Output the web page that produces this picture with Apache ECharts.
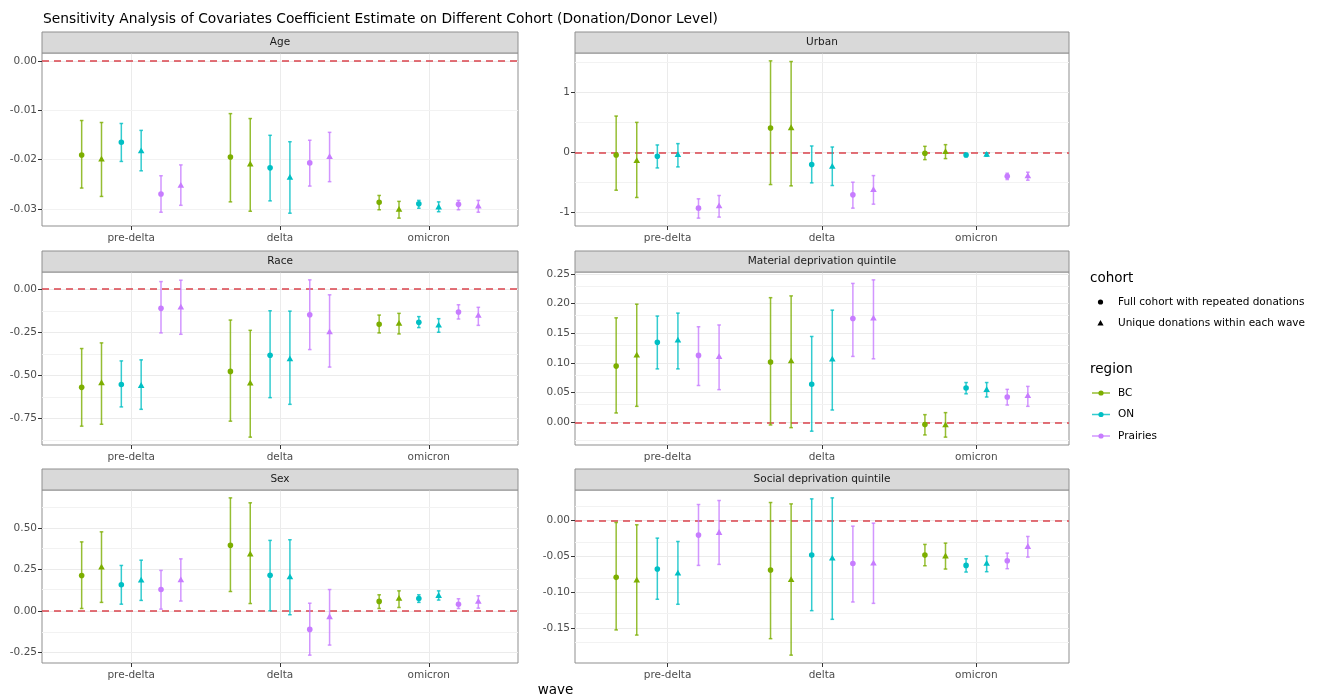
<!DOCTYPE html>
<html>
<head>
<meta charset="utf-8">
<script src="https://cdn.jsdelivr.net/npm/echarts@6/dist/echarts.min.js"></script>
<style>
  html, body { margin: 0; padding: 0; background: #ffffff; }
  #chart { width: 1331px; height: 700px; }
</style>
</head>
<body>
<div id="chart"></div>
<script>
// Categories
const waves = ['pre-delta', 'delta', 'omicron'];
const regions = ['BC', 'ON', 'Prairies'];
const cohorts = ['Full cohort with repeated donations', 'Unique donations within each wave'];
const regionColors = ['#7CAE00', '#00BFC4', '#C77CFF'];
const panelTitles = ['Age', 'Urban', 'Race', 'Material deprivation quintile', 'Sex', 'Social deprivation quintile'];

// Within each wave: BC full, BC unique, ON full, ON unique, Prairies full, Prairies unique
const ageEst  = [-0.0191, -0.0200, -0.0165, -0.0183, -0.0270, -0.0253,  -0.0195, -0.0210, -0.0217, -0.0237, -0.0207, -0.0195,  -0.0287, -0.0302, -0.0290, -0.0297, -0.0291, -0.0295];
const ageLow  = [-0.0258, -0.0275, -0.0204, -0.0223, -0.0307, -0.0293,  -0.0286, -0.0305, -0.0284, -0.0309, -0.0254, -0.0245,  -0.0302, -0.0319, -0.0299, -0.0306, -0.0302, -0.0307];
const ageHigh = [-0.0121, -0.0125, -0.0127, -0.0141, -0.0233, -0.0211,  -0.0107, -0.0117, -0.0151, -0.0164, -0.0161, -0.0145,  -0.0273, -0.0285, -0.0283, -0.0286, -0.0283, -0.0283];

const urbanEst  = [-0.044, -0.144, -0.066, -0.044, -0.928, -0.895,  0.403, 0.403, -0.204, -0.238, -0.707, -0.624,  -0.017, 0.006, -0.044, -0.039, -0.398, -0.398];
const urbanLow  = [-0.630, -0.751, -0.260, -0.243, -1.094, -1.077,  -0.536, -0.558, -0.508, -0.552, -0.928, -0.862,  -0.122, -0.105, -0.072, -0.066, -0.453, -0.464];
const urbanHigh = [0.602, 0.497, 0.122, 0.144, -0.773, -0.718,  1.519, 1.508, 0.105, 0.088, -0.497, -0.387,  0.099, 0.127, -0.017, -0.011, -0.348, -0.331];

const raceEst  = [-0.572, -0.547, -0.555, -0.563, -0.112, -0.106,  -0.479, -0.549, -0.385, -0.408, -0.149, -0.251,  -0.205, -0.201, -0.193, -0.211, -0.133, -0.155];
const raceLow  = [-0.798, -0.787, -0.686, -0.700, -0.255, -0.263,  -0.769, -0.862, -0.632, -0.671, -0.352, -0.454,  -0.255, -0.261, -0.224, -0.251, -0.174, -0.211];
const raceHigh = [-0.346, -0.313, -0.418, -0.412, 0.044, 0.052,  -0.180, -0.240, -0.126, -0.128, 0.054, -0.033,  -0.151, -0.141, -0.160, -0.172, -0.091, -0.106];

const materialEst  = [0.0947, 0.1127, 0.135, 0.138, 0.1127, 0.110,  0.1015, 0.103, 0.064, 0.106, 0.1749, 0.175,  -0.0039, -0.005, 0.0577, 0.0544, 0.0426, 0.0443];
const materialLow  = [0.0157, 0.0269, 0.090, 0.090, 0.062, 0.055,  -0.0045, -0.009, -0.015, 0.0207, 0.111, 0.107,  -0.0213, -0.025, 0.048, 0.0426, 0.0291, 0.0269];
const materialHigh = [0.176, 0.199, 0.179, 0.184, 0.161, 0.164,  0.210, 0.213, 0.1446, 0.189, 0.234, 0.240,  0.0129, 0.0163, 0.067, 0.067, 0.0555, 0.0605];

const sexEst  = [0.214, 0.263, 0.158, 0.184, 0.129, 0.186,  0.398, 0.342, 0.216, 0.204, -0.113, -0.038,  0.057, 0.073, 0.075, 0.091, 0.040, 0.055];
const sexLow  = [0.014, 0.051, 0.040, 0.063, 0.010, 0.059,  0.117, 0.044, 0.000, -0.024, -0.269, -0.208,  0.014, 0.020, 0.051, 0.065, 0.014, 0.016];
const sexHigh = [0.418, 0.479, 0.275, 0.307, 0.245, 0.315,  0.685, 0.655, 0.427, 0.431, 0.046, 0.129,  0.097, 0.121, 0.097, 0.121, 0.073, 0.091];

const socialEst  = [-0.0794, -0.0836, -0.0678, -0.0738, -0.0204, -0.0172,  -0.0692, -0.0831, -0.0483, -0.0530, -0.0600, -0.0600,  -0.0483, -0.0500, -0.0627, -0.0604, -0.0562, -0.0367];
const socialLow  = [-0.1528, -0.1600, -0.1100, -0.1170, -0.0627, -0.0613,  -0.1650, -0.1880, -0.1259, -0.1380, -0.1138, -0.1157,  -0.0632, -0.0678, -0.0720, -0.0715, -0.0673, -0.0511];
const socialHigh = [-0.0028, -0.0060, -0.0246, -0.0293, 0.0223, 0.0279,  0.0251, 0.0232, 0.0302, 0.0316, -0.0079, -0.0037,  -0.0334, -0.0316, -0.0534, -0.0497, -0.0455, -0.0223];

// Y-axis tick values per facet
const ageTicks = [-0.03, -0.02, -0.01, 0];
const urbanTicks = [-1, 0, 1];
const raceTicks = [-0.75, -0.5, -0.25, 0];
const materialTicks = [0, 0.05, 0.1, 0.15, 0.2, 0.25];
const sexTicks = [-0.25, 0, 0.25, 0.5];
const socialTicks = [-0.15, -0.1, -0.05, 0];
const tickDigits = [2, 0, 2, 2, 2, 2];

const panels = [
  { est: ageEst, low: ageLow, high: ageHigh, ticks: ageTicks },
  { est: urbanEst, low: urbanLow, high: urbanHigh, ticks: urbanTicks },
  { est: raceEst, low: raceLow, high: raceHigh, ticks: raceTicks },
  { est: materialEst, low: materialLow, high: materialHigh, ticks: materialTicks },
  { est: sexEst, low: sexLow, high: sexHigh, ticks: sexTicks },
  { est: socialEst, low: socialLow, high: socialHigh, ticks: socialTicks }
];

// Facet layout (plot area of each panel, strip sits above it)
const colLeft = [42, 575];
const colWidth = [476, 494];
const rowTop = [53, 272, 490];
const rowHeight = 173;
const stripHeight = 21;
const FONT = 'DejaVu Sans';
const borderColor = '#8F8F8F';

const dodgeWidth = 0.8;
const groupsPerWave = regions.length * cohorts.length;

function renderErrorPoint(params, api) {
  const est = api.coord([api.value(0), api.value(1)]);
  const lo = api.coord([api.value(0), api.value(2)]);
  const hi = api.coord([api.value(0), api.value(3)]);
  const color = regionColors[api.value(4)];
  const cap = 1.8;
  const lineStyle = { stroke: color, lineWidth: 1.5, opacity: 0.8 };
  const children = [
    { type: 'line', shape: { x1: lo[0], y1: lo[1], x2: hi[0], y2: hi[1] }, style: lineStyle },
    { type: 'line', shape: { x1: hi[0] - cap, y1: hi[1], x2: hi[0] + cap, y2: hi[1] }, style: lineStyle },
    { type: 'line', shape: { x1: lo[0] - cap, y1: lo[1], x2: lo[0] + cap, y2: lo[1] }, style: lineStyle }
  ];
  if (api.value(5) === 0) {
    children.push({ type: 'circle', shape: { cx: est[0], cy: est[1], r: 2.8 }, style: { fill: color } });
  } else {
    children.push({ type: 'polygon', shape: { points: [[est[0], est[1] - 3.7], [est[0] - 3.3, est[1] + 2.1], [est[0] + 3.3, est[1] + 2.1]] }, style: { fill: color } });
  }
  return { type: 'group', children: children };
}

const grids = [], xAxes = [], yAxes = [], series = [], graphics = [];

panels.forEach((p, i) => {
  const col = i % 2, row = Math.floor(i / 2);
  const left = colLeft[col], top = rowTop[row], width = colWidth[col];

  grids.push({ left: left, top: top, width: width, height: rowHeight, show: true,
    borderColor: borderColor, borderWidth: 1, backgroundColor: 'transparent', containLabel: false });

  xAxes.push({
    type: 'value', gridIndex: i, min: 0.4, max: 3.6, position: 'bottom',
    axisLine: { show: false, onZero: false },
    axisTick: { show: true, length: 4, lineStyle: { color: '#333333' }, customValues: [1, 2, 3] },
    axisLabel: { customValues: [1, 2, 3], formatter: v => waves[Math.round(v) - 1], color: '#4D4D4D',
      fontSize: 10.5, fontFamily: FONT, margin: 7 },
    splitLine: { show: true, lineStyle: { color: '#EBEBEB', width: 1 } }
  });

  // ggplot-style 5% expansion of the data range (reference line at 0 included)
  let lo = Math.min(0, ...p.low), hi = Math.max(0, ...p.high);
  const pad = (hi - lo) * 0.05;
  const yMin = lo - pad, yMax = hi + pad;

  yAxes.push({
    type: 'value', gridIndex: i, min: yMin, max: yMax, position: 'left',
    axisLine: { show: false, onZero: false },
    axisTick: { show: true, length: 4, lineStyle: { color: '#333333' }, customValues: p.ticks },
    axisLabel: { customValues: p.ticks, formatter: v => (Math.abs(v) < 1e-12 ? 0 : v).toFixed(tickDigits[i]),
      color: '#4D4D4D', fontSize: 10.5, fontFamily: FONT, margin: 5 },
    splitLine: { show: true, lineStyle: { color: '#EBEBEB', width: 1 } }
  });

  // minor grid lines half way between major ticks
  const step = p.ticks[1] - p.ticks[0];
  const minor = [];
  for (let k = -1; k < p.ticks.length; k++) {
    const v = p.ticks[0] + (k + 0.5) * step;
    if (v > yMin && v < yMax) minor.push(v);
  }
  series.push({
    type: 'line', xAxisIndex: i, yAxisIndex: i, data: [], silent: true, z: 1,
    markLine: { silent: true, symbol: 'none', label: { show: false }, animation: false,
      lineStyle: { color: '#F2F2F2', width: 1, type: 'solid' },
      data: minor.map(v => ({ yAxis: v })) }
  });
  // reference line at zero
  series.push({
    type: 'line', xAxisIndex: i, yAxisIndex: i, data: [], silent: true, z: 2,
    markLine: { silent: true, symbol: 'none', label: { show: false }, animation: false,
      lineStyle: { color: '#DA434C', width: 1.5, type: [7, 5] },
      data: [{ yAxis: 0 }] }
  });

  const data = [];
  waves.forEach((w, wi) => {
    for (let g = 0; g < groupsPerWave; g++) {
      const idx = wi * groupsPerWave + g;
      const r = Math.floor(g / cohorts.length), c = g % cohorts.length;
      const x = wi + 1 + (g - (groupsPerWave - 1) / 2) * dodgeWidth / groupsPerWave;
      data.push([x, p.est[idx], p.low[idx], p.high[idx], r, c]);
    }
  });
  series.push({
    type: 'custom', xAxisIndex: i, yAxisIndex: i, z: 5, silent: true, animation: false,
    renderItem: renderErrorPoint,
    dimensions: ['x', 'est', 'low', 'high', 'region', 'cohort'],
    encode: { x: 0, y: [1, 2, 3] },
    data: data
  });

  // facet strip
  graphics.push({ type: 'rect', silent: true, z: 10,
    shape: { x: left, y: top - stripHeight, width: width, height: stripHeight },
    style: { fill: '#D9D9D9', stroke: borderColor, lineWidth: 1 } });
  graphics.push({ type: 'text', silent: true, z: 11, x: left + width / 2, y: top - stripHeight / 2,
    style: { text: panelTitles[i], fill: '#1A1A1A', font: '10.5px "' + FONT + '"', align: 'center', verticalAlign: 'middle' } });
});

// Axis title
graphics.push({ type: 'text', silent: true, x: (colLeft[0] + colLeft[1] + colWidth[1]) / 2, y: 690,
  style: { text: 'wave', fill: '#000000', font: '13.5px "' + FONT + '"', align: 'center', verticalAlign: 'middle' } });

// Legends
const legX = 1090;
graphics.push({ type: 'text', silent: true, x: legX, y: 278,
  style: { text: 'cohort', fill: '#000000', font: '13.5px "' + FONT + '"', verticalAlign: 'middle' } });
cohorts.forEach((name, k) => {
  const cy = 302 + k * 21.5;
  if (k === 0) {
    graphics.push({ type: 'circle', silent: true, shape: { cx: 1100.5, cy: cy, r: 2.6 }, style: { fill: '#000000' } });
  } else {
    graphics.push({ type: 'polygon', silent: true, shape: { points: [[1100.5, cy - 3.4], [1097.4, cy + 2], [1103.6, cy + 2]] }, style: { fill: '#000000' } });
  }
  graphics.push({ type: 'text', silent: true, x: 1118, y: cy,
    style: { text: name, fill: '#000000', font: '10.5px "' + FONT + '"', verticalAlign: 'middle' } });
});
graphics.push({ type: 'text', silent: true, x: legX, y: 369,
  style: { text: 'region', fill: '#000000', font: '13.5px "' + FONT + '"', verticalAlign: 'middle' } });
regions.forEach((name, k) => {
  const cy = 393 + k * 21.5;
  graphics.push({ type: 'line', silent: true, shape: { x1: 1092, y1: cy, x2: 1110, y2: cy },
    style: { stroke: regionColors[k], lineWidth: 1.5, opacity: 0.8 } });
  graphics.push({ type: 'circle', silent: true, shape: { cx: 1101, cy: cy, r: 2.6 }, style: { fill: regionColors[k] } });
  graphics.push({ type: 'text', silent: true, x: 1118, y: cy,
    style: { text: name, fill: '#000000', font: '10.5px "' + FONT + '"', verticalAlign: 'middle' } });
});

const chart = echarts.init(document.getElementById('chart'), null, { renderer: 'canvas' });
chart.setOption({
  animation: false,
  backgroundColor: '#ffffff',
  textStyle: { fontFamily: FONT },
  title: {
    text: 'Sensitivity Analysis of Covariates Coefficient Estimate on Different Cohort (Donation/Donor Level)',
    left: 43, top: 12, padding: 0,
    textStyle: { fontSize: 13.8, fontWeight: 'normal', color: '#000000', fontFamily: FONT }
  },
  grid: grids,
  xAxis: xAxes,
  yAxis: yAxes,
  series: series,
  graphic: graphics
});
</script>
</body>
</html>
